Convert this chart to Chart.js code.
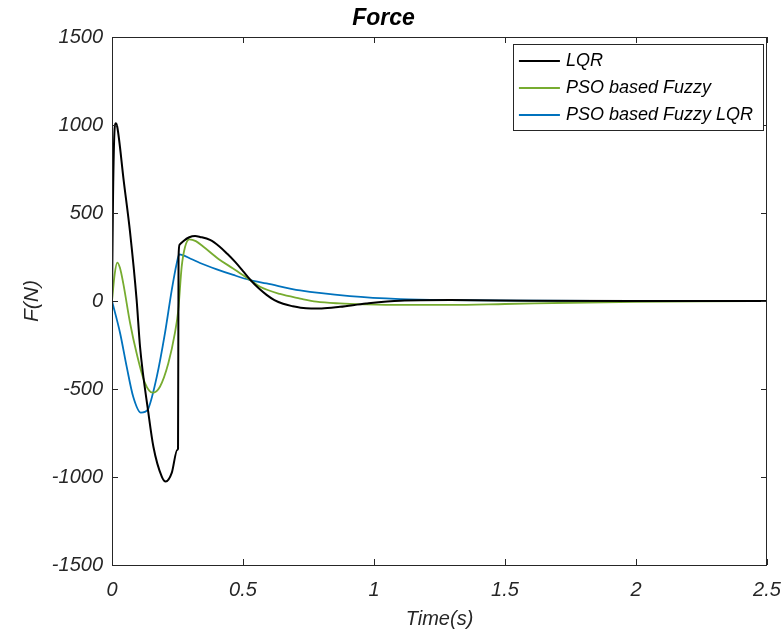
<!DOCTYPE html>
<html>
<head>
<meta charset="utf-8">
<title>Force</title>
<script src="https://cdn.jsdelivr.net/npm/chart.js@4.4.1/dist/chart.umd.min.js"></script>
<style>
  html, body { margin: 0; padding: 0; background: #fff; }
  #wrap { width: 782px; height: 632px; }
</style>
</head>
<body>
<div id="wrap"><canvas id="forceChart" width="782" height="632"></canvas></div>
<script>
// valori (tempo in s, forza in N)
const seriesNames = ['LQR', 'PSO based Fuzzy', 'PSO based Fuzzy LQR'];

const lqrTime  = [0, 0.004, 0.01, 0.014, 0.02, 0.045, 0.069, 0.094, 0.107, 0.139, 0.158, 0.19, 0.205, 0.228, 0.249, 0.252, 0.254, 0.258, 0.272, 0.295, 0.317, 0.336, 0.374, 0.41, 0.44, 0.47, 0.5, 0.527, 0.56, 0.59, 0.62, 0.653, 0.69, 0.72, 0.76, 0.8, 0.87, 0.97, 1.1, 1.29, 1.6, 2.0, 2.5];
const lqrForce = [0, 600, 980, 1010, 990, 680, 390, 6, -260, -637, -828, -998, -1026, -977, -846, -840, 250, 320, 340, 362, 369, 364, 347, 310, 268, 222, 170, 122, 72, 35, 5, -16, -30, -38, -42, -42, -33, -14, 2, 5, 2, 0, 0];

const fuzzyTime  = [0, 0.01, 0.02, 0.03, 0.043, 0.069, 0.094, 0.126, 0.155, 0.183, 0.215, 0.24, 0.253, 0.266, 0.279, 0.295, 0.32, 0.349, 0.412, 0.462, 0.527, 0.565, 0.641, 0.718, 0.78, 0.87, 0.972, 1.1, 1.29, 1.5, 1.75, 2.0, 2.25, 2.5];
const fuzzyForce = [0, 150, 218, 190, 100, -125, -297, -467, -521, -487, -354, -183, -51, 195, 308, 350, 340, 308, 233, 185, 119, 81, 40, 14, -4, -14, -19, -22, -22, -17, -10, -5, -2, -1];

const fuzzyLqrTime  = [0, 0.031, 0.056, 0.081, 0.11, 0.125, 0.139, 0.171, 0.202, 0.228, 0.247, 0.257, 0.3, 0.336, 0.4, 0.463, 0.527, 0.59, 0.718, 0.908, 1.1, 1.29, 1.6, 2.0, 2.5];
const fuzzyLqrForce = [0, -183, -373, -544, -634, -630, -610, -430, -184, 62, 214, 265, 240, 216, 180, 148, 119, 100, 60, 28, 11, 5, 2, 1, 0];

const xTicks = [0, 0.5, 1, 1.5, 2, 2.5];
const yTicks = [-1500, -1000, -500, 0, 500, 1000, 1500];

const lineColors = ['#000000', '#77AC30', '#0072BD'];
const axisColor = '#262626';

function toPoints(t, f) {
  return t.map((v, i) => ({ x: v, y: f[i] }));
}

// cornice con tacche interne, stile MATLAB
const framePlugin = {
  id: 'frame',
  afterDraw(chart) {
    const ctx = chart.ctx;
    const a = chart.chartArea;
    const xs = chart.scales.x;
    const ys = chart.scales.y;
    const len = 6;
    ctx.save();
    ctx.strokeStyle = axisColor;
    ctx.lineWidth = 1;
    ctx.strokeRect(a.left + 0.5, a.top + 0.5, a.right - a.left - 1, a.bottom - a.top);
    ctx.beginPath();
    xTicks.forEach(v => {
      const px = Math.round(xs.getPixelForValue(v)) + 0.5;
      ctx.moveTo(px, a.bottom); ctx.lineTo(px, a.bottom - len);
      ctx.moveTo(px, a.top); ctx.lineTo(px, a.top + len);
    });
    yTicks.forEach(v => {
      const py = Math.round(ys.getPixelForValue(v)) + 0.5;
      ctx.moveTo(a.left, py); ctx.lineTo(a.left + len, py);
      ctx.moveTo(a.right, py); ctx.lineTo(a.right - len, py);
    });
    ctx.stroke();
    ctx.restore();
  }
};

// legenda dentro l'area del grafico, in alto a destra
const boxLegendPlugin = {
  id: 'boxLegend',
  afterDraw(chart) {
    const ctx = chart.ctx;
    const a = chart.chartArea;
    const rowH = 27;
    const lineLen = 41;
    ctx.save();
    ctx.font = 'italic 18px "Liberation Sans", Arial, sans-serif';
    let maxW = 0;
    chart.data.datasets.forEach(ds => { maxW = Math.max(maxW, ctx.measureText(ds.label).width); });
    const w = 6 + lineLen + 6 + maxW + 10;
    const h = rowH * chart.data.datasets.length + 5;
    const x0 = a.right - 4 - w;
    const y0 = a.top + 7;
    ctx.fillStyle = '#fff';
    ctx.fillRect(x0, y0, w, h);
    ctx.strokeStyle = axisColor;
    ctx.lineWidth = 1;
    ctx.strokeRect(Math.round(x0) + 0.5, Math.round(y0) + 0.5, Math.round(w), Math.round(h));
    chart.data.datasets.forEach((ds, i) => {
      const cy = y0 + 17 + i * rowH;
      ctx.strokeStyle = ds.borderColor;
      ctx.lineWidth = 1.8;
      ctx.beginPath();
      ctx.moveTo(x0 + 6, cy);
      ctx.lineTo(x0 + 6 + lineLen, cy);
      ctx.stroke();
      ctx.fillStyle = '#000';
      ctx.textBaseline = 'middle';
      ctx.textAlign = 'left';
      ctx.fillText(ds.label, x0 + 6 + lineLen + 6, cy);
    });
    ctx.restore();
  }
};

const tickFont = { family: '"Liberation Sans", Arial, sans-serif', size: 20, style: 'italic' };

new Chart(document.getElementById('forceChart'), {
  type: 'line',
  data: {
    datasets: [
      { label: seriesNames[0], data: toPoints(lqrTime, lqrForce), borderColor: lineColors[0], borderWidth: 2 },
      { label: seriesNames[1], data: toPoints(fuzzyTime, fuzzyForce), borderColor: lineColors[1], borderWidth: 1.8 },
      { label: seriesNames[2], data: toPoints(fuzzyLqrTime, fuzzyLqrForce), borderColor: lineColors[2], borderWidth: 1.8 }
    ]
  },
  options: {
    responsive: false,
    animation: false,
    elements: {
      point: { radius: 0 },
      line: { cubicInterpolationMode: 'monotone', fill: false }
    },
    layout: { padding: { left: 0, right: 15, top: 0, bottom: 0 } },
    plugins: {
      legend: { display: false },
      tooltip: { enabled: false },
      title: {
        display: true,
        text: 'Force',
        color: '#000',
        font: { family: '"Liberation Sans", Arial, sans-serif', size: 23, style: 'italic', weight: 'bold' },
        padding: { top: 5, bottom: 4.4 }
      }
    },
    scales: {
      x: {
        type: 'linear',
        min: 0,
        max: 2.5,
        grid: { display: false },
        border: { display: false },
        afterFit: s => { s.height = 67; s.paddingRight = 0; s.paddingLeft = 0; },
        afterBuildTicks: s => { s.ticks = xTicks.map(v => ({ value: v })); },
        ticks: {
          color: axisColor,
          font: tickFont,
          padding: 5,
          maxRotation: 0,
          autoSkip: false,
          callback: v => String(v)
        },
        title: {
          display: true,
          text: 'Time(s)',
          color: axisColor,
          font: tickFont,
          padding: { top: 0, bottom: 1 }
        }
      },
      y: {
        type: 'linear',
        min: -1500,
        max: 1500,
        grid: { display: false },
        border: { display: false },
        afterFit: s => { s.width = 112; s.paddingTop = 0; s.paddingBottom = 0; },
        afterBuildTicks: s => { s.ticks = yTicks.map(v => ({ value: v })); },
        ticks: {
          color: axisColor,
          font: tickFont,
          padding: 1,
          autoSkip: false,
          callback: v => String(v)
        },
        title: {
          display: true,
          text: 'F(N)',
          color: axisColor,
          font: { family: '"Liberation Sans", Arial, sans-serif', size: 21, style: 'italic' },
          padding: { top: 20, bottom: 0 }
        }
      }
    }
  },
  plugins: [framePlugin, boxLegendPlugin]
});
</script>
</body>
</html>
